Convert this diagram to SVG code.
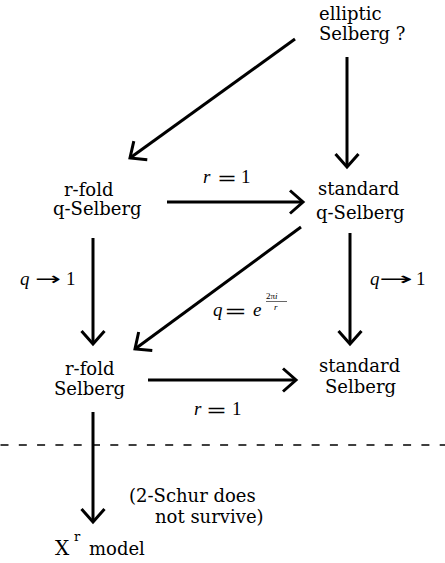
<svg xmlns="http://www.w3.org/2000/svg" width="445" height="563" viewBox="0 0 445 563">
<style>
.t{font-family:"DejaVu Serif","Liberation Serif",serif;font-size:18px;fill:#000}
.m{font-family:"Liberation Serif","DejaVu Serif",serif;font-size:19px;fill:#000}
.s{font-family:"DejaVu Sans","Liberation Sans",sans-serif;font-size:18px;fill:#000}
.i{font-style:italic}
.c{fill:none;stroke:#000;stroke-width:3}
.d{fill:none;stroke:#000;stroke-width:1.3;stroke-dasharray:8 10.3}
</style>
<defs>
<marker id="ah" markerUnits="userSpaceOnUse" viewBox="-20 -15 25 30" markerWidth="25" markerHeight="30" refX="0" refY="0" orient="auto" overflow="visible">
<path d="M-13,-11.5 L0,0 L-13,11.5" fill="none" stroke="#000" stroke-width="3"/>
</marker>
</defs>
<rect width="445" height="563" fill="#fff"/>
<g id="connectors">
<line class="c" x1="295" y1="39" x2="130" y2="158" marker-end="url(#ah)"/>
<line class="c" x1="347" y1="57" x2="347" y2="167" marker-end="url(#ah)"/>
<line class="c" x1="167" y1="202" x2="303" y2="202" marker-end="url(#ah)"/>
<line class="c" x1="93" y1="238" x2="93" y2="344" marker-end="url(#ah)"/>
<line class="c" x1="350" y1="233" x2="350" y2="344" marker-end="url(#ah)"/>
<line class="c" x1="301" y1="227" x2="135" y2="349" marker-end="url(#ah)"/>
<line class="c" x1="148" y1="380" x2="296" y2="380" marker-end="url(#ah)"/>
<line class="c" x1="93" y1="412" x2="93" y2="522" marker-end="url(#ah)"/>
<line class="d" x1="0.5" y1="445" x2="445" y2="445"/>
</g>
<g id="label-top-r1">
<text class="m i" x="203" y="183">r</text>
<text class="s" x="217" y="184" textLength="20" lengthAdjust="spacingAndGlyphs">=</text>
<text class="m" x="241" y="183">1</text>
</g>
<g id="label-bottom-r1">
<text class="m i" x="194" y="415">r</text>
<text class="s" x="206" y="416" textLength="21" lengthAdjust="spacingAndGlyphs">=</text>
<text class="m" x="232" y="415">1</text>
</g>
<g id="label-left-q1">
<text class="m i" x="20" y="285">q</text>
<text class="s" x="35" y="285" textLength="26" lengthAdjust="spacingAndGlyphs">→</text>
<text class="m" x="66" y="285">1</text>
</g>
<g id="label-right-q1">
<text class="m i" x="370" y="285">q</text>
<text class="s" x="379" y="285" textLength="34" lengthAdjust="spacingAndGlyphs">→</text>
<text class="m" x="416" y="285">1</text>
</g>
<g id="label-q-root">
<text class="m i" x="213" y="316">q</text>
<text class="s" x="224" y="317" textLength="23" lengthAdjust="spacingAndGlyphs">=</text>
<text class="m i" x="253" y="316">e</text>
<text class="m" style="font-size:9px" x="266" y="299">2π<tspan class="i">i</tspan></text>
<line x1="266" y1="301.5" x2="287" y2="301.5" stroke="#000" stroke-width="0.6"/>
<text class="m i" style="font-size:9px" x="274" y="309.5">r</text>
</g>
<g id="note">
<text class="t" x="129" y="502">(2-Schur does</text>
<text class="t" x="155" y="523">not survive)</text>
</g>
<g id="elliptic">
<text class="t" x="319" y="20">elliptic</text>
<text class="t" x="319" y="40">Selberg ?</text>
</g>
<g id="rfold-q">
<text class="t" x="64" y="196">r-fold</text>
<text class="t" x="53" y="215">q-Selberg</text>
</g>
<g id="standard-q">
<text class="t" x="318" y="195">standard</text>
<text class="t" x="316" y="219">q-Selberg</text>
</g>
<g id="rfold">
<text class="t" x="65" y="375">r-fold</text>
<text class="t" x="54" y="395">Selberg</text>
</g>
<g id="standard">
<text class="t" x="319" y="372">standard</text>
<text class="t" x="325" y="393">Selberg</text>
</g>
<g id="xr-model">
<text class="t" x="55" y="555"><tspan style="font-size:20px">X</tspan><tspan style="font-size:13px" x="74" y="541">r</tspan><tspan x="89" y="555">model</tspan></text>
</g>
</svg>
